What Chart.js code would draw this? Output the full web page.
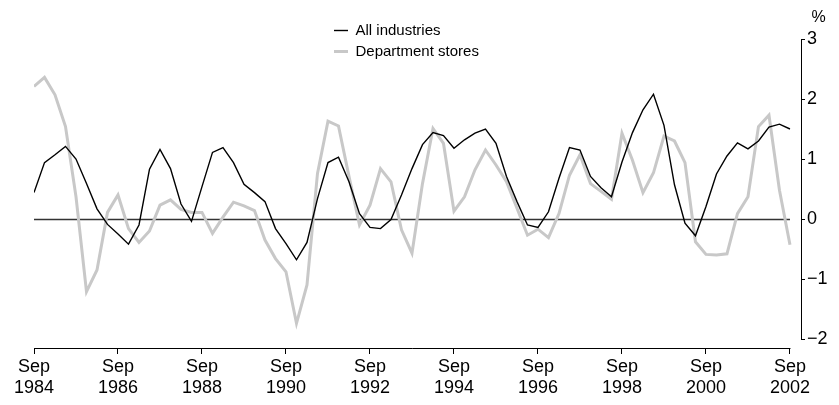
<!DOCTYPE html>
<html>
<head>
<meta charset="utf-8">
<script src="https://cdn.jsdelivr.net/npm/chart.js@4/dist/chart.umd.min.js"></script>
<style>
html,body{margin:0;padding:0;background:#fff;}
#wrap{width:839px;height:405px;position:relative;}
</style>
</head>
<body>
<div id="wrap"><canvas id="c" width="839" height="405"></canvas></div>
<script>
// Quarterly categories, Sep 1984 .. Sep 2002
const quarterMonths = ['Sep', 'Dec', 'Mar', 'Jun'];
const categories = [];
for (let k = 0; k < 73; k++) {
  categories.push(quarterMonths[k % 4] + ' ' + (1984 + Math.floor((k + 2) / 4)));
}

// Series values (% change)
const allIndustries = [
  0.44, 0.94, 1.07, 1.21, 1.00, 0.59, 0.17, -0.09, -0.25, -0.42,
  -0.10, 0.83, 1.16, 0.84, 0.25, -0.04, 0.54, 1.11, 1.19, 0.94,
  0.58, 0.44, 0.29, -0.16, -0.41, -0.68, -0.39, 0.34, 0.94, 1.03,
  0.62, 0.09, -0.14, -0.16, -0.01, 0.40, 0.84, 1.24, 1.44, 1.39,
  1.18, 1.32, 1.43, 1.50, 1.26, 0.71, 0.29, -0.10, -0.14, 0.12,
  0.68, 1.19, 1.15, 0.71, 0.52, 0.37, 0.95, 1.44, 1.82, 2.08,
  1.56, 0.57, -0.07, -0.28, 0.21, 0.75, 1.05, 1.27, 1.17, 1.30,
  1.53, 1.58, 1.50
];
const deptStores = [
  2.21, 2.36, 2.07, 1.54, 0.37, -1.21, -0.85, 0.11, 0.40, -0.16,
  -0.39, -0.20, 0.23, 0.32, 0.16, 0.11, 0.11, -0.24, 0.03, 0.28,
  0.22, 0.14, -0.35, -0.66, -0.88, -1.74, -1.10, 0.76, 1.63, 1.55,
  0.71, -0.10, 0.23, 0.84, 0.62, -0.18, -0.57, 0.59, 1.51, 1.26,
  0.13, 0.37, 0.82, 1.15, 0.90, 0.62, 0.18, -0.27, -0.17, -0.31,
  0.09, 0.73, 1.07, 0.59, 0.46, 0.33, 1.43, 0.98, 0.44, 0.77,
  1.38, 1.30, 0.94, -0.38, -0.59, -0.60, -0.58, 0.09, 0.37, 1.54,
  1.73, 0.48, -0.43
];

// Tick labels
const xTickIndex = [0, 8, 16, 24, 32, 40, 48, 56, 64, 72];
const xTickLabels = [
  ['Sep', '1984'], ['Sep', '1986'], ['Sep', '1988'], ['Sep', '1990'], ['Sep', '1992'],
  ['Sep', '1994'], ['Sep', '1996'], ['Sep', '1998'], ['Sep', '2000'], ['Sep', '2002']
];
const yTicks = [-2, -1, 0, 1, 2, 3];
const yUnit = '%';

const FONT = '"Liberation Sans", Arial, sans-serif';

const axesPlugin = {
  id: 'axesLines',
  afterLayout(chart) {
    const lg = chart.legend;
    if (lg) {
      lg.left = 328;
      lg.top = 17;
      if (lg.adjustHitBoxes) lg.adjustHitBoxes();
    }
  },
  beforeDatasetsDraw(chart) {
    const { ctx, scales: { x, y } } = chart;
    const y0 = Math.round(y.getPixelForValue(0)) + 0.5;
    ctx.save();
    ctx.strokeStyle = '#333';
    ctx.lineWidth = 1.3;
    ctx.beginPath();
    ctx.moveTo(x.getPixelForValue(xTickIndex[0]), y0);
    ctx.lineTo(x.getPixelForValue(xTickIndex[xTickIndex.length - 1]), y0);
    ctx.stroke();
    ctx.restore();
  },
  afterDraw(chart) {
    const { ctx, chartArea, scales: { x, y } } = chart;
    ctx.save();
    ctx.strokeStyle = '#000';
    ctx.lineWidth = 1;
    const by = Math.round(chartArea.bottom) + 0.5;
    const rx = Math.round(chartArea.right) + 0.5;
    ctx.beginPath();
    ctx.moveTo(x.getPixelForValue(xTickIndex[0]), by);
    ctx.lineTo(x.getPixelForValue(xTickIndex[xTickIndex.length - 1]) + 0.5, by);
    ctx.moveTo(rx, y.getPixelForValue(yTicks[yTicks.length - 1]));
    ctx.lineTo(rx, y.getPixelForValue(yTicks[0]) + 0.5);
    ctx.stroke();
    ctx.fillStyle = '#000';
    ctx.font = '16px ' + FONT;
    ctx.textAlign = 'left';
    ctx.textBaseline = 'middle';
    ctx.fillText(yUnit, rx + 10, y.getPixelForValue(yTicks[yTicks.length - 1]) - 21);
    ctx.restore();
  }
};

new Chart(document.getElementById('c'), {
  type: 'line',
  data: {
    labels: categories,
    datasets: [
      {
        label: 'All industries',
        data: allIndustries.map((v, i) => ({ x: i, y: v })),
        borderColor: '#000000',
        backgroundColor: '#000000',
        borderWidth: 1.4,
        pointRadius: 0,
        tension: 0,
        fill: false
      },
      {
        label: 'Department stores',
        data: deptStores.map((v, i) => ({ x: i, y: v })),
        borderColor: '#c8c8c8',
        backgroundColor: '#c8c8c8',
        borderWidth: 3,
        pointRadius: 0,
        tension: 0,
        fill: false
      }
    ]
  },
  options: {
    responsive: false,
    animation: false,
    devicePixelRatio: 1,
    layout: { padding: { left: 34, top: 39, right: 0, bottom: 0 } },
    scales: {
      x: {
        type: 'linear',
        min: 0,
        max: 73.05,
        afterBuildTicks: (s) => { s.ticks = xTickIndex.map(v => ({ value: v })); },
        afterFit: (s) => { s.height = 57; },
        ticks: {
          autoSkip: false,
          maxRotation: 0,
          color: '#000',
          padding: 2,
          font: { family: FONT, size: 18, lineHeight: 1.2 },
          callback: (v, i) => xTickLabels[i]
        },
        grid: { display: true, drawOnChartArea: false, drawTicks: true, tickLength: 6, color: '#000', lineWidth: 1 },
        border: { display: false }
      },
      y: {
        position: 'right',
        min: -2.15,
        max: 3,
        afterBuildTicks: (s) => { s.ticks = yTicks.map(v => ({ value: v })); },
        afterFit: (s) => { s.width = 38; },
        ticks: {
          color: '#000',
          padding: 2,
          font: { family: FONT, size: 18 },
          callback: (v) => (v < 0 ? '\u2212' + Math.abs(v) : String(v))
        },
        grid: { display: true, drawOnChartArea: false, drawTicks: true, tickLength: 4, color: '#000', lineWidth: 1 },
        border: { display: false }
      }
    },
    plugins: {
      tooltip: { enabled: false },
      title: { display: false },
      legend: {
        display: true,
        position: 'chartArea',
        align: 'start',
        labels: {
          usePointStyle: true,
          pointStyle: 'line',
          pointStyleWidth: 14,
          color: '#000',
          padding: 6,
          font: { family: FONT, size: 15 }
        }
      }
    }
  },
  plugins: [axesPlugin]
});
</script>
</body>
</html>
